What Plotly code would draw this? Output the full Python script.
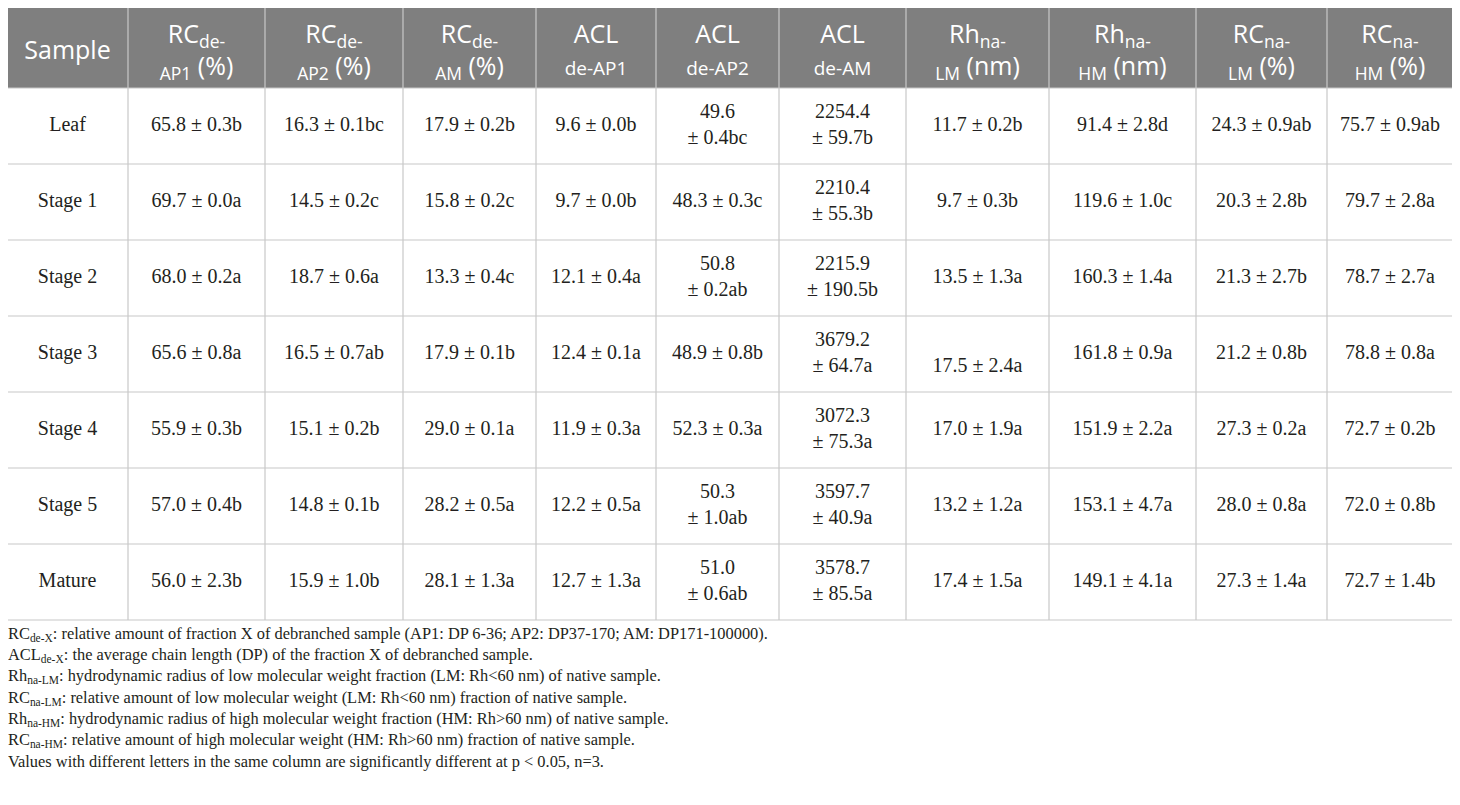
import plotly.graph_objects as go

# Table content
samples = ["Leaf", "Stage 1", "Stage 2", "Stage 3", "Stage 4", "Stage 5", "Mature"]

headers = [
    "Sample",
    "RC<sub>de-</sub><br><sub>AP1</sub> (%)",
    "RC<sub>de-</sub><br><sub>AP2</sub> (%)",
    "RC<sub>de-</sub><br><sub>AM</sub> (%)",
    "ACL<br><span style='font-size:19px'>de-AP1</span>",
    "ACL<br><span style='font-size:19px'>de-AP2</span>",
    "ACL<br><span style='font-size:19px'>de-AM</span>",
    "Rh<sub>na-</sub><br><sub>LM</sub> (nm)",
    "Rh<sub>na-</sub><br><sub>HM</sub> (nm)",
    "RC<sub>na-</sub><br><sub>LM</sub> (%)",
    "RC<sub>na-</sub><br><sub>HM</sub> (%)",
]

rc_de_ap1 = ["65.8 ± 0.3b", "69.7 ± 0.0a", "68.0 ± 0.2a", "65.6 ± 0.8a", "55.9 ± 0.3b", "57.0 ± 0.4b", "56.0 ± 2.3b"]
rc_de_ap2 = ["16.3 ± 0.1bc", "14.5 ± 0.2c", "18.7 ± 0.6a", "16.5 ± 0.7ab", "15.1 ± 0.2b", "14.8 ± 0.1b", "15.9 ± 1.0b"]
rc_de_am = ["17.9 ± 0.2b", "15.8 ± 0.2c", "13.3 ± 0.4c", "17.9 ± 0.1b", "29.0 ± 0.1a", "28.2 ± 0.5a", "28.1 ± 1.3a"]
acl_de_ap1 = ["9.6 ± 0.0b", "9.7 ± 0.0b", "12.1 ± 0.4a", "12.4 ± 0.1a", "11.9 ± 0.3a", "12.2 ± 0.5a", "12.7 ± 1.3a"]
acl_de_ap2 = ["49.6<br>± 0.4bc", "48.3 ± 0.3c", "50.8<br>± 0.2ab", "48.9 ± 0.8b", "52.3 ± 0.3a", "50.3<br>± 1.0ab", "51.0<br>± 0.6ab"]
acl_de_am = ["2254.4<br>± 59.7b", "2210.4<br>± 55.3b", "2215.9<br>± 190.5b", "3679.2<br>± 64.7a",
             "3072.3<br>± 75.3a", "3597.7<br>± 40.9a", "3578.7<br>± 85.5a"]
rh_na_lm = ["11.7 ± 0.2b", "9.7 ± 0.3b", "13.5 ± 1.3a", " <br>17.5 ± 2.4a", "17.0 ± 1.9a", "13.2 ± 1.2a", "17.4 ± 1.5a"]
rh_na_hm = ["91.4 ± 2.8d", "119.6 ± 1.0c", "160.3 ± 1.4a", "161.8 ± 0.9a", "151.9 ± 2.2a", "153.1 ± 4.7a", "149.1 ± 4.1a"]
rc_na_lm = ["24.3 ± 0.9ab", "20.3 ± 2.8b", "21.3 ± 2.7b", "21.2 ± 0.8b", "27.3 ± 0.2a", "28.0 ± 0.8a", "27.3 ± 1.4a"]
rc_na_hm = ["75.7 ± 0.9ab", "79.7 ± 2.8a", "78.7 ± 2.7a", "78.8 ± 0.8a", "72.7 ± 0.2b", "72.0 ± 0.8b", "72.7 ± 1.4b"]

columns = [samples, rc_de_ap1, rc_de_ap2, rc_de_am, acl_de_ap1, acl_de_ap2, acl_de_am,
           rh_na_lm, rh_na_hm, rc_na_lm, rc_na_hm]

footnotes = [
    "RC<sub>de-X</sub>: relative amount of fraction X of debranched sample (AP1: DP 6-36; AP2: DP37-170; AM: DP171-100000).",
    "ACL<sub>de-X</sub>: the average chain length (DP) of the fraction X of debranched sample.",
    "Rh<sub>na-LM</sub>: hydrodynamic radius of low molecular weight fraction (LM: Rh&lt;60 nm) of native sample.",
    "RC<sub>na-LM</sub>: relative amount of low molecular weight (LM: Rh&lt;60 nm) fraction of native sample.",
    "Rh<sub>na-HM</sub>: hydrodynamic radius of high molecular weight fraction (HM: Rh&gt;60 nm) of native sample.",
    "RC<sub>na-HM</sub>: relative amount of high molecular weight (HM: Rh&gt;60 nm) fraction of native sample.",
    "Values with different letters in the same column are significantly different at p &lt; 0.05, n=3.",
]

# Layout geometry (page pixels); the page body adds an 8px offset
page_pad = 8
col_edges = [7, 128, 265, 403, 536, 656, 779, 906, 1049, 1196, 1327, 1453]
table_top = 7
header_h = 81
row_h = 76
line_color = "#c8c8c8"
header_bg = "#7f7f7f"

row_edges = [table_top, table_top + header_h]
for _ in samples:
    row_edges.append(row_edges[-1] + row_h)

col_mid = [(a + b) / 2 for a, b in zip(col_edges[:-1], col_edges[1:])]
row_mid = [(a + b) / 2 for a, b in zip(row_edges[:-1], row_edges[1:])]

fig = go.Figure()

# header labels
fig.add_trace(go.Scatter(
    x=col_mid, y=[row_mid[0] + 5] * len(headers),
    mode="text", text=headers, textposition="middle center",
    textfont=dict(family="Open Sans", size=25, color="white"),
    hoverinfo="skip", cliponaxis=False, showlegend=False,
))

# body cells
xs, ys, texts = [], [], []
for ci, col in enumerate(columns):
    for ri, val in enumerate(col):
        xs.append(col_mid[ci])
        ys.append(row_mid[ri + 1])
        texts.append(val)
fig.add_trace(go.Scatter(
    x=xs, y=ys, mode="text", text=texts, textposition="middle center",
    textfont=dict(family="Liberation Serif", size=20, color="#231f20"),
    hoverinfo="skip", cliponaxis=False, showlegend=False,
))

shapes = [dict(type="rect", x0=col_edges[0], x1=col_edges[-1], y0=row_edges[0], y1=row_edges[1],
               fillcolor=header_bg, line=dict(width=0), layer="below")]
for x in col_edges:
    shapes.append(dict(type="line", x0=x, x1=x, y0=row_edges[0], y1=row_edges[-1],
                       line=dict(color=line_color, width=1.2)))
for y in row_edges:
    shapes.append(dict(type="line", x0=col_edges[0], x1=col_edges[-1], y0=y, y1=y,
                       line=dict(color=line_color, width=1.2)))

# footnotes (anchor kept inside the axis range so they are not hidden)
annotations = []
for i, note in enumerate(footnotes):
    annotations.append(dict(
        x=page_pad, y=634 + i * 21.2, xref="x", yref="y", xshift=-2,
        text=note, showarrow=False, xanchor="left", yanchor="middle",
        font=dict(family="Liberation Serif", size=16.4, color="#231f20"),
    ))

fig.update_layout(
    width=1460 - page_pad, height=805 - page_pad,
    margin=dict(l=0, r=0, t=0, b=0),
    paper_bgcolor="white", plot_bgcolor="white",
    xaxis=dict(range=[page_pad, 1460], visible=False, fixedrange=True),
    yaxis=dict(range=[805, page_pad], visible=False, fixedrange=True),
    shapes=shapes, annotations=annotations,
)

fig.write_html("out.html")
